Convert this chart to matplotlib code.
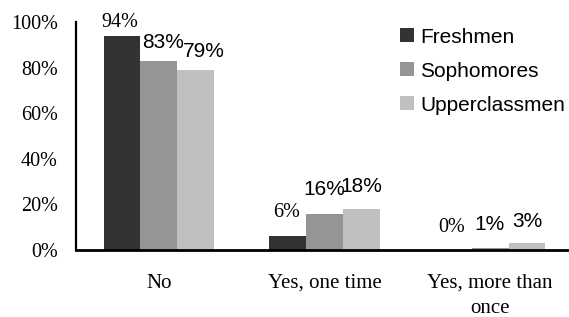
import numpy as np
import matplotlib
matplotlib.use("Agg")
import matplotlib.pyplot as plt

categories = ["No", "Yes, one time", "Yes, more than\nonce"]
series = ["Freshmen", "Sophomores", "Upperclassmen"]
freshmen = [94, 6, 0]
sophomores = [83, 16, 1]
upperclassmen = [79, 18, 3]
yticks = [0, 20, 40, 60, 80, 100]

colors = ["#333333", "#959595", "#c0c0c0"]
label_fonts = ["Liberation Serif", "Liberation Sans", "Liberation Sans"]
label_sizes = [14.5, 15, 15]
# label offsets (pixels) from the bar top, per series / category
label_offsets = [
    [(-2, 13), (-1, 24), (-2, 23)],
    [(4, 18), (0, 24), (-1, 23)],
    [(8, 18), (0, 22), (0, 22)],
]

W, H = 569, 317
fig = plt.figure(figsize=(W / 100, H / 100), dpi=100)
ax = fig.add_axes([76 / W, 67 / H, (573 - 76) / W, 228 / H])

x = np.arange(len(categories))
width = 0.222
values = [freshmen, sophomores, upperclassmen]
for i, vals in enumerate(values):
    xs = x + (i - 1) * width
    ax.bar(xs, vals, width, color=colors[i], label=series[i], zorder=2)
    for j, v in enumerate(vals):
        dx, dy = label_offsets[i][j]
        ax.annotate(f"{v}%", (xs[j], v), xytext=(dx, dy), textcoords="offset pixels",
                    ha="center", va="center", fontsize=label_sizes[i],
                    family=label_fonts[i], color="#000000")

ax.set_xlim(-0.5, 2.5)
ax.set_ylim(0, 100)
ax.set_yticks(yticks)
ax.set_yticklabels([f"{t}%" for t in yticks], family="Liberation Serif", fontsize=14.5)
ax.set_xticks(x)
ax.set_xticklabels(categories, family="Liberation Serif", fontsize=15, linespacing=1.45)
ax.tick_params(axis="both", length=0)
ax.tick_params(axis="y", pad=13)
ax.tick_params(axis="x", pad=17)

for s in ["top", "right"]:
    ax.spines[s].set_visible(False)
ax.spines["left"].set_linewidth(1.6)
ax.spines["bottom"].set_linewidth(2)
ax.spines["bottom"].set_zorder(3)

leg = ax.legend(loc="upper left", bbox_to_anchor=(0.636, 1.012), frameon=False,
                prop={"family": "Liberation Sans", "size": 15},
                handlelength=0.65, handleheight=0.65, handletextpad=0.3,
                labelspacing=0.72, borderaxespad=0)

fig.savefig("out.png", dpi=100)
